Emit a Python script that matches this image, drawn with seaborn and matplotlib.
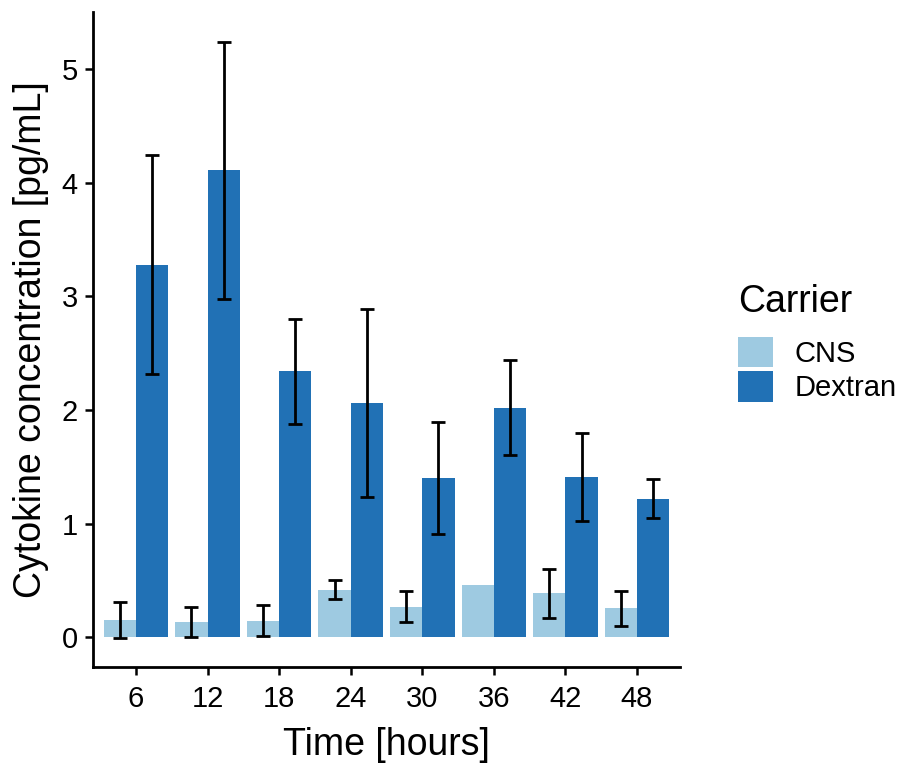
import numpy as np
import pandas as pd
import matplotlib
matplotlib.use("Agg")
import matplotlib.pyplot as plt
import seaborn as sns

times = ["6", "12", "18", "24", "30", "36", "42", "48"]
carriers = ["CNS", "Dextran"]
cns_mean = [0.15, 0.135, 0.145, 0.42, 0.27, 0.46, 0.385, 0.255]
cns_err = [0.16, 0.135, 0.135, 0.085, 0.135, np.nan, 0.215, 0.155]
dex_mean = [3.28, 4.11, 2.34, 2.06, 1.40, 2.02, 1.41, 1.22]
dex_err = [0.96, 1.13, 0.46, 0.825, 0.49, 0.42, 0.39, 0.17]
colors = ["#9ecae1", "#2171b5"]

df = pd.DataFrame({
    "Time": times * 2,
    "Carrier": ["CNS"] * 8 + ["Dextran"] * 8,
    "Value": cns_mean + dex_mean,
    "Err": cns_err + dex_err,
})

sns.set_theme(style="ticks")
plt.rcParams["font.family"] = ["Liberation Sans", "DejaVu Sans"]
plt.rcParams["text.color"] = "black"

fig = plt.figure(figsize=(9.06, 7.71), dpi=100)
ax = fig.add_axes([93/906, 1-667/771, (680-93)/906, (667-12)/771])

sns.barplot(data=df, x="Time", y="Value", hue="Carrier", order=times,
            hue_order=carriers, palette=colors, errorbar=None, width=0.9,
            saturation=1, linewidth=0, ax=ax)

# error bars at bar centers
for cont, car in zip(ax.containers, carriers):
    sub = df[df.Carrier == car].set_index("Time").loc[times]
    xs = [p.get_x() + p.get_width() / 2 for p in cont.patches]
    ax.errorbar(xs, sub["Value"].values, yerr=sub["Err"].values, fmt="none",
                ecolor="black", elinewidth=2, capsize=5, capthick=2, zorder=5)

ax.set_xlim(-0.6, 7.6)
ax.set_ylim(-0.262, 5.502)
ax.set_yticks([0, 1, 2, 3, 4, 5])
ax.set_xlabel("Time [hours]", fontsize=27, color="black", labelpad=10)
ax.set_ylabel("Cytokine concentration [pg/mL]", fontsize=27, color="black", labelpad=9)
ax.tick_params(axis="both", labelsize=21, colors="black", length=6, width=1.8)
ax.tick_params(axis="x", pad=7)
ax.tick_params(axis="y", pad=5)
for s in ["top", "right"]:
    ax.spines[s].set_visible(False)
for s in ["left", "bottom"]:
    ax.spines[s].set_linewidth(2)
    ax.spines[s].set_color("black")

ax.legend_.remove()
handles = [plt.Rectangle((0, 0), 1, 1, facecolor=c, edgecolor="none") for c in colors]
leg = fig.legend(handles, carriers, title="Carrier", loc="center left",
                 bbox_to_anchor=(738/906, 1-343/771), frameon=False,
                 fontsize=21, title_fontsize=27, handlelength=1.2,
                 handleheight=1.25, labelspacing=0.1, handletextpad=0.75,
                 borderaxespad=0, borderpad=0)
leg._legend_box.align = "left"
leg._legend_box.sep = 12
for t in leg.get_texts():
    t.set_color("black")
leg.get_title().set_color("black")

fig.savefig("out.png", dpi=100)
